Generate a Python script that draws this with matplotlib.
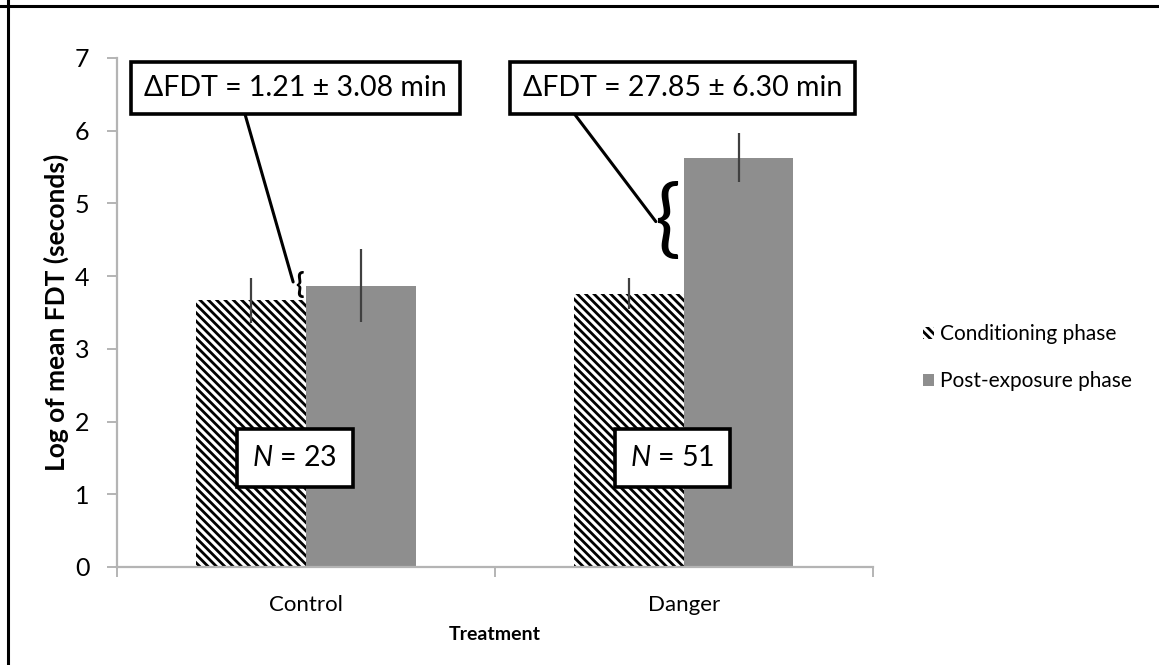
import matplotlib.pyplot as plt
from matplotlib.patches import Patch
import numpy as np

# Mean log FDT per treatment group and phase, with standard errors
treatments = ["Control", "Danger"]
conditioning = [3.67, 3.76]
conditioning_err = [0.31, 0.21]
post_exposure = [3.87, 5.63]
post_exposure_err = [0.50, 0.34]
sample_sizes = [23, 51]
delta_labels = ["\u0394FDT = 1.21 \u00b1 3.08 min", "\u0394FDT = 27.85 \u00b1 6.30 min"]

plt.rcParams['font.family'] = ['Lato', 'DejaVu Sans']
plt.rcParams['mathtext.fontset'] = 'custom'
plt.rcParams['mathtext.rm'] = 'Lato'
plt.rcParams['mathtext.it'] = 'Lato:italic'
plt.rcParams['hatch.linewidth'] = 2.0

fig = plt.figure(figsize=(11.59, 6.65), dpi=100)
ax = fig.add_axes([0.101, 0.1474, 0.652, 0.7654])

x = np.arange(len(treatments))
width = 0.29
err_style = dict(ecolor='#404040', elinewidth=1.6, capsize=0)
stripes = '\\\\\\\\'

ax.bar(x - width / 2, conditioning, width, yerr=conditioning_err, color='white',
       edgecolor='black', linewidth=0, hatch=stripes, error_kw=err_style, zorder=2)
ax.bar(x + width / 2, post_exposure, width, yerr=post_exposure_err, color='#8e8e8e',
       edgecolor='none', linewidth=0, error_kw=err_style, zorder=2)

ax.set_xlim(-0.5, 1.5)
ax.set_ylim(0, 7)

# Axis styling: light gray spines, ticks pointing outward
for side in ['top', 'right']:
    ax.spines[side].set_visible(False)
for side in ['left', 'bottom']:
    ax.spines[side].set_color('#b4b4b4')
    ax.spines[side].set_linewidth(1.6)

ax.set_yticks(range(8))
ax.tick_params(axis='y', direction='out', length=7, width=1.4, color='#b4b4b4',
               labelsize=18, pad=13)
ax.set_xticks([-0.5, 0.5, 1.5])
ax.set_xticklabels([])
ax.set_xticks(x, minor=True)
ax.set_xticklabels(treatments, minor=True)
ax.tick_params(axis='x', which='major', direction='out', length=7, width=1.4, color='#b4b4b4')
ax.tick_params(axis='x', which='minor', length=0, labelsize=16, pad=20)

ax.set_ylabel("Log of mean FDT (seconds)", fontsize=19, fontweight='bold', labelpad=4)
ax.set_xlabel("Treatment", fontsize=14, fontweight='bold', labelpad=8)

box_style = dict(boxstyle='square,pad=0.45', facecolor='white', edgecolor='black', linewidth=2.6)

# Difference callouts with braces spanning the gap between phases
ax.text(-0.028, 6.59, delta_labels[0], fontsize=20.5, ha='center', va='center', bbox=box_style, zorder=5)
ax.annotate('', xy=(-0.034, 3.92), xytext=(-0.161, 6.22),
            arrowprops=dict(arrowstyle='-', color='black', lw=2.2, shrinkA=0, shrinkB=0), zorder=4)
ax.text(-0.018, 3.88, '{', fontsize=20, fontweight='bold', ha='center', va='center', zorder=4)

ax.text(0.997, 6.59, delta_labels[1], fontsize=20.5, ha='center', va='center', bbox=box_style, zorder=5)
ax.annotate('', xy=(0.926, 4.75), xytext=(0.712, 6.22),
            arrowprops=dict(arrowstyle='-', color='black', lw=2.2, shrinkA=0, shrinkB=0), zorder=4)
ax.text(0.955, 4.73, '{', fontsize=62, ha='center', va='center', zorder=4)

# Sample size labels
n_style = dict(boxstyle='square,pad=0.55', facecolor='white', edgecolor='black', linewidth=2.6)
for xi, n in zip(x, sample_sizes):
    ax.text(xi - 0.03, 1.5, f"$N$ = {n}", fontsize=20.5, ha='center', va='center', bbox=n_style, zorder=5)

handles = [Patch(facecolor='white', edgecolor='black', linewidth=0, hatch=stripes),
           Patch(facecolor='#8e8e8e', edgecolor='none')]
fig.legend(handles, ["Conditioning phase", "Post-exposure phase"], loc='center left',
           bbox_to_anchor=(0.78, 0.462), frameon=False, fontsize=15,
           handlelength=0.55, handleheight=0.55, handletextpad=0.3, labelspacing=1.3)

# Frame lines along the top and left edges
fig.add_artist(plt.Line2D([0, 1], [0.991, 0.991], color='black', lw=2.2, transform=fig.transFigure))
fig.add_artist(plt.Line2D([0.0072, 0.0072], [0, 1], color='black', lw=2.2, transform=fig.transFigure))

fig.savefig("out.png", dpi=100)
